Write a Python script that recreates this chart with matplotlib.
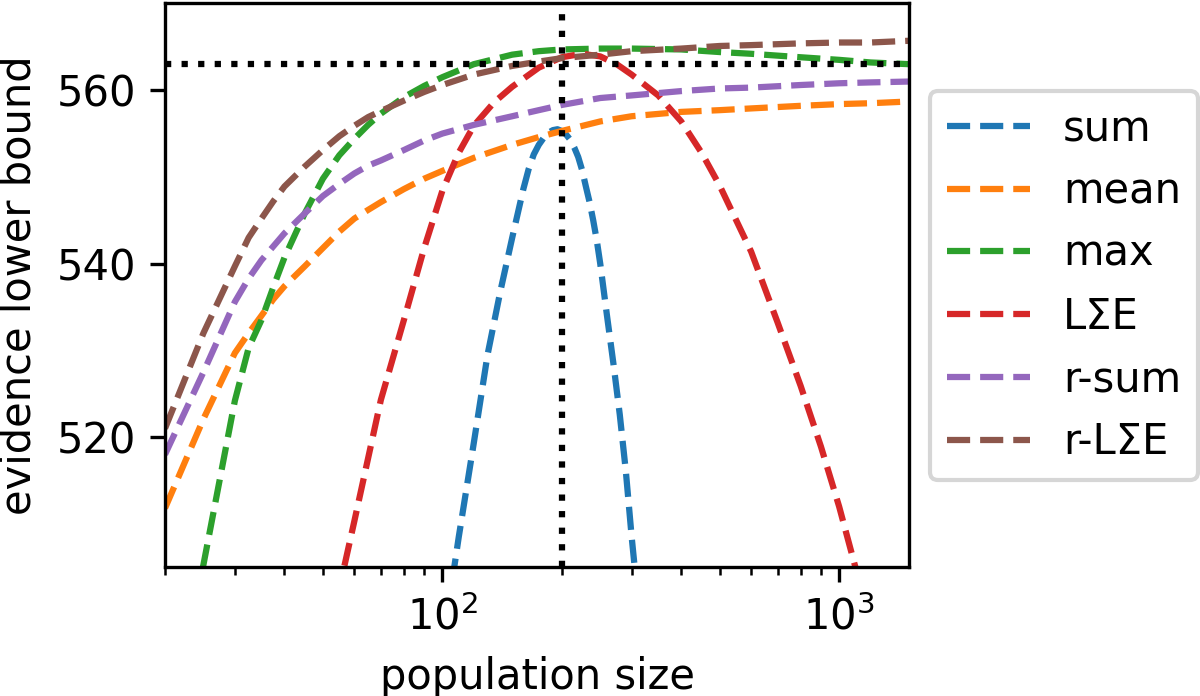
import numpy as np
import matplotlib
matplotlib.use('Agg')
import matplotlib.pyplot as plt

# population sizes shared by the saturating curves
pop = [20, 25, 30, 32.5, 35, 37.5, 40, 45, 50, 55, 60, 65, 70, 80, 90, 100,
       120, 150, 175, 200, 250, 300, 400, 500, 600, 800, 1000, 1200, 1500]

mean_elbo = [511.8, 522.1, 529.7, 532.0, 534.0, 535.9, 537.4, 539.7, 541.8,
             543.7, 545.2, 546.2, 547.1, 548.6, 549.8, 550.7, 552.2, 553.7,
             554.6, 555.3, 556.4, 557.0, 557.5, 557.7, 557.9, 558.2, 558.4,
             558.5, 558.7]
max_elbo = [484.0, 505.3, 524.2, 530.3, 533.5, 537.3, 540.7, 545.8, 549.8,
            552.5, 554.4, 556.0, 557.3, 559.2, 560.5, 561.5, 563.0, 564.1,
            564.5, 564.7, 564.8, 564.8, 564.7, 564.4, 564.2, 563.8, 563.5,
            563.2, 563.0]
rsum_elbo = [518.0, 527.5, 535.6, 538.3, 540.4, 542.0, 543.5, 545.8, 547.8,
             549.2, 550.4, 551.3, 551.9, 553.1, 554.2, 555.0, 556.0, 557.0,
             557.7, 558.3, 559.1, 559.4, 559.9, 560.2, 560.3, 560.6, 560.8,
             560.9, 561.0]
rlse_elbo = [521.0, 532.0, 539.7, 543.0, 545.2, 547.2, 548.9, 551.2, 553.1,
             554.7, 555.9, 556.9, 557.6, 558.8, 559.8, 560.6, 561.8, 562.8,
             563.3, 563.7, 564.1, 564.5, 564.8, 565.1, 565.2, 565.4, 565.5,
             565.5, 565.7]

# sum: sharp peak near 200
pop_sum = [100, 110, 120, 130, 140, 150, 160, 165, 170, 175, 180, 185, 190,
           195, 200, 205, 210, 215, 220, 225, 230, 235, 240, 245, 250, 260,
           270, 280, 290, 300, 310]
sum_elbo = [495.8, 508.5, 519.3, 529.5, 536.8, 543.0, 548.6, 550.9, 552.6,
            553.7, 554.5, 555.1, 555.4, 555.5, 555.3, 554.9, 554.3, 553.4,
            552.3, 550.8, 548.9, 547.1, 545.0, 542.7, 540.0, 534.0, 528.4,
            522.6, 516.1, 508.5, 502.0]

# LSE: wider peak
pop_lse = [50, 60, 70, 80, 90, 100, 110, 120, 135, 150, 175, 200, 225, 250,
           275, 300, 350, 400, 450, 500, 600, 700, 800, 900, 1000, 1200]
lse_elbo = [494.0, 510.3, 524.3, 533.5, 541.8, 548.4, 552.8, 555.9, 558.6,
            560.4, 562.6, 563.8, 564.2, 563.9, 563.0, 561.8, 559.4, 556.4,
            552.8, 549.0, 541.4, 533.2, 525.9, 518.9, 512.0, 498.5]

best_pop = 200
best_elbo = 563

plt.rcParams['font.size'] = 10

fig = plt.figure(figsize=(4, 2.32), dpi=300)
ax = fig.add_axes([0.1375, 0.185, 0.62, 0.81])

ax.plot(pop_sum, sum_elbo, '--', label='sum')
ax.plot(pop, mean_elbo, '--', label='mean')
ax.plot(pop, max_elbo, '--', label='max')
ax.plot(pop_lse, lse_elbo, '--', label='LΣE')
ax.plot(pop, rsum_elbo, '--', label='r-sum')
ax.plot(pop, rlse_elbo, '--', label='r-LΣE')

# chosen population size and its bound
ax.axvline(best_pop, color='k', linestyle=':')
ax.axhline(best_elbo, color='k', linestyle=':')

ax.set_xscale('log')
ax.set_xlim(20, 1500)
ax.set_ylim(505, 570)
ax.set_yticks([520, 540, 560])
ax.set_xlabel('population size')
ax.set_ylabel('evidence lower bound')
ax.legend(loc='center left', bbox_to_anchor=(1, 0.5))

fig.savefig('out.png', dpi=300)
